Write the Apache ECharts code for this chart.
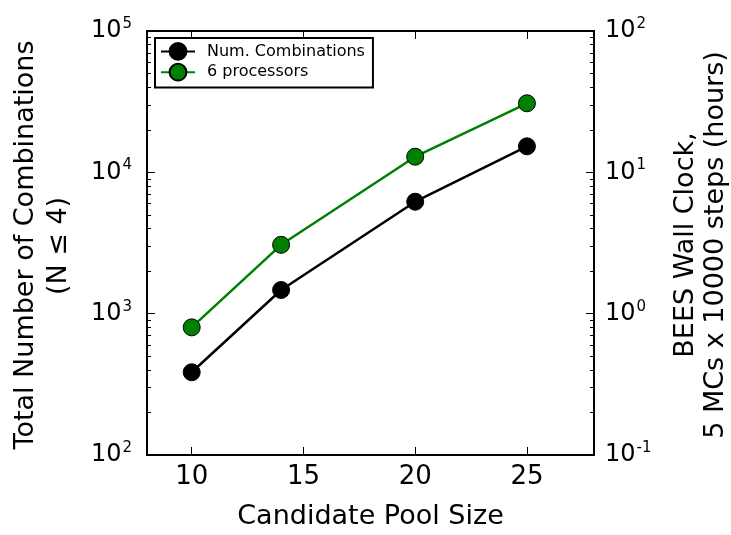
<!DOCTYPE html>
<html><head><meta charset="utf-8">
<script src="https://cdn.jsdelivr.net/npm/echarts@6/dist/echarts.min.js"></script>
<style>html,body{margin:0;padding:0;background:#fff}#c{width:731px;height:535px}</style>
</head><body><div id="c"></div>
<script>
const poolSize = [10, 14, 20, 25];
const numCombinations = [385, 1470, 6195, 15275];
const wallClockHours = [0.80, 3.07, 12.9, 30.8];
const xTickValues = [10, 15, 20, 25];
const leftDecades = [100, 1000, 10000, 100000];
const rightDecades = [0.1, 1, 10, 100];
const seriesNames = ['Num. Combinations', '6 processors'];
const xTitle = 'Candidate Pool Size';
const leftTitle = ['Total Number of Combinations', '(N \u2264 4)'];
const rightTitle = ['BEES Wall Clock,', '5 MCs x 10000 steps (hours)'];

const FONT = 'DejaVu Sans';
const TITLE_FONT = '27px "DejaVu Sans"';
function minorTicks(decades) {
  const out = [];
  for (let i = 0; i < decades.length - 1; i++) {
    for (let k = 2; k <= 9; k++) out.push(+(decades[i] * k).toPrecision(3));
  }
  return out;
}
function powLabel(v) {
  const e = Math.round(Math.log10(v));
  return '{b|10}{s|' + e + '}';
}
const labelRich = {
  b: { fontSize: 24, fontFamily: FONT, color: '#000' },
  s: { fontSize: 15, fontFamily: FONT, color: '#000', padding: [0, 0, 14, 1] }
};
function logAxis(pos, decades, main) {
  return {
    type: 'log', logBase: 10, position: pos,
    min: decades[0], max: decades[decades.length - 1],
    axisLine: { show: main, lineStyle: { color: '#000', width: 2 } },
    axisTick: main ? { show: true, inside: true, length: 8, lineStyle: { color: '#000', width: 1 } }
                   : { show: true, inside: true, length: 4, customValues: minorTicks(decades), lineStyle: { color: '#000', width: 1 } },
    axisLabel: main ? { show: true, margin: pos === 'left' ? 15 : 11, formatter: powLabel, rich: labelRich }
                    : { show: false },
    splitLine: { show: false },
    minorTick: { show: false }
  };
}
function vText(x, y, text) {
  return { type: 'text', x: x, y: y, rotation: Math.PI / 2,
    style: { text: text, font: TITLE_FONT, fill: '#000', align: 'center', verticalAlign: 'middle' } };
}

const chart = echarts.init(document.getElementById('c'));
chart.setOption({
  animation: false,
  backgroundColor: '#fff',
  grid: { left: 147, right: 137, top: 31, bottom: 76, containLabel: false },
  textStyle: { fontFamily: FONT },
  legend: {
    data: seriesNames, orient: 'vertical', left: 155, top: 38,
    borderColor: '#000', borderWidth: 2, borderRadius: 0, backgroundColor: '#fff',
    padding: [4, 8, 6, 5], itemGap: 2, itemWidth: 34, itemHeight: 21,
    lineStyle: { width: 2 },
    textStyle: { fontSize: 16, fontFamily: FONT, color: '#000', padding: [0, 0, 0, 7] }
  },
  xAxis: [
    {
      type: 'value', position: 'bottom', min: 8, max: 28,
      axisLine: { lineStyle: { color: '#000', width: 2 } },
      axisTick: { inside: true, length: 8, customValues: xTickValues, lineStyle: { color: '#000', width: 1 } },
      axisLabel: { customValues: xTickValues, fontSize: 26, fontFamily: FONT, color: '#000', margin: 9 },
      splitLine: { show: false },
      name: xTitle, nameLocation: 'middle', nameGap: 48,
      nameTextStyle: { fontSize: 27, fontFamily: FONT, color: '#000' }
    },
    {
      type: 'value', position: 'top', min: 8, max: 28,
      axisLine: { lineStyle: { color: '#000', width: 2 } },
      axisTick: { inside: true, length: 8, customValues: xTickValues, lineStyle: { color: '#000', width: 1 } },
      axisLabel: { show: false },
      splitLine: { show: false }
    }
  ],
  yAxis: [
    logAxis('left', leftDecades, true),
    logAxis('right', rightDecades, true),
    logAxis('left', leftDecades, false),
    logAxis('right', rightDecades, false)
  ],
  graphic: [
    vText(26, 245, leftTitle[0]),
    vText(59, 246, leftTitle[1]),
    vText(686, 245, rightTitle[0]),
    vText(716, 245, rightTitle[1])
  ],
  series: [
    {
      name: seriesNames[0], type: 'line', xAxisIndex: 0, yAxisIndex: 0,
      data: poolSize.map((x, i) => [x, numCombinations[i]]),
      symbol: 'circle', symbolSize: 17,
      lineStyle: { color: '#000', width: 2.5 },
      itemStyle: { color: '#000', borderColor: '#000', borderWidth: 1 }
    },
    {
      name: seriesNames[1], type: 'line', xAxisIndex: 0, yAxisIndex: 1,
      data: poolSize.map((x, i) => [x, wallClockHours[i]]),
      symbol: 'circle', symbolSize: 17,
      lineStyle: { color: '#008000', width: 2.5 },
      itemStyle: { color: '#008000', borderColor: '#000', borderWidth: 1 }
    }
  ]
});
</script></body></html>
